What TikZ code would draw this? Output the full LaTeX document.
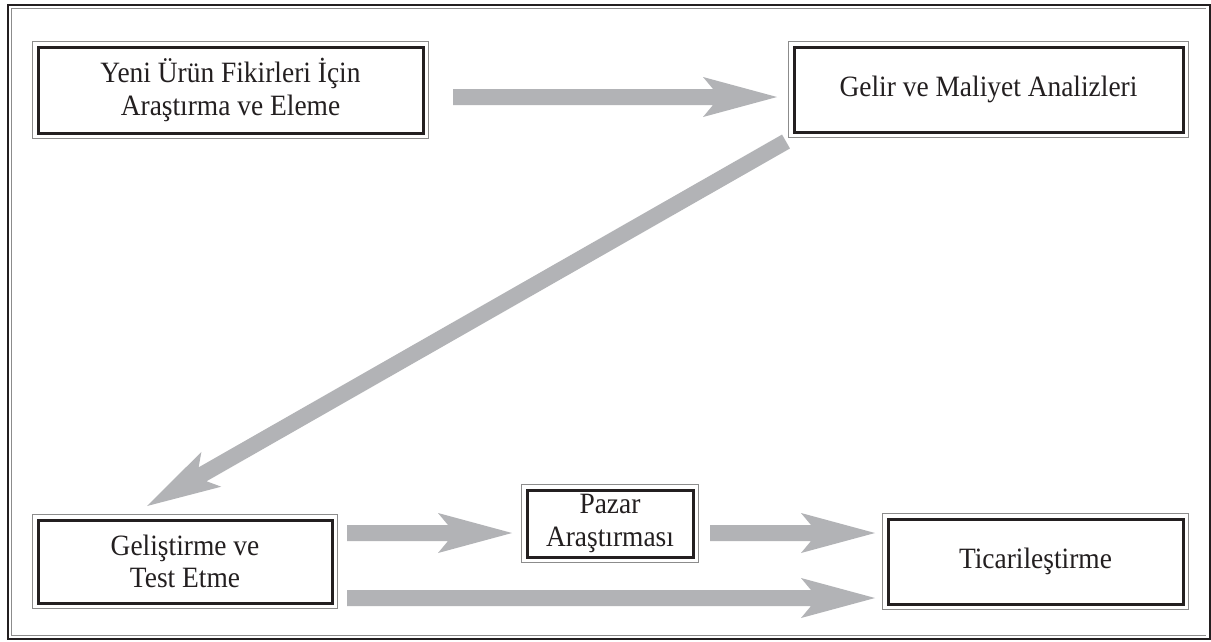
\documentclass[tikz,border=0pt]{standalone}
\usepackage{fontspec}
\setmainfont{Liberation Serif}[FakeStretch=0.93]
\usetikzlibrary{calc}
\definecolor{arrowfill}{RGB}{178,179,182}
\definecolor{framedark}{RGB}{35,31,32}
\definecolor{txt}{RGB}{35,31,32}
\tikzset{
  stagebox/.style={draw=framedark, line width=3pt, fill=white, inner sep=0pt,
    align=center, text=txt, font=\fontsize{29.5}{32.5}\selectfont},
  outerline/.style={draw=black!45, line width=0.9pt},
}
\newcommand{\fatarrow}[3]{%
  \coordinate (#3h) at ($(#2)!74pt!(#1)$);
  \coordinate (#3m) at ($(#2)!64pt!(#1)$);
  \fill[arrowfill] ($(#1)!8pt!90:(#2)$) -- ($(#3m)!8pt!90:(#2)$) -- ($(#3h)!20pt!90:(#2)$) -- (#2)
    -- ($(#3h)!20pt!-90:(#2)$) -- ($(#3m)!8pt!-90:(#2)$) -- ($(#1)!8pt!-90:(#2)$) -- cycle;
}
\begin{document}
\begin{tikzpicture}[x=1pt,y=-1pt]
\useasboundingbox (0,0) rectangle (1211,641);
\fill[white] (0,0) rectangle (1211,641);
% frame
\draw[framedark, line width=2pt] (7.7,4.8) rectangle (1209.5,639.2);
\draw[outerline] (1206,8.8) -- (11.5,8.8) -- (11.5,635.8) -- (1206,635.8);
% nodes
\node[stagebox, minimum width=385pt, minimum height=86pt] (n1) at (230.5,90) {Yeni Ürün Fikirleri İçin\\Araştırma ve Eleme};
\node[stagebox, minimum width=389pt, minimum height=85pt] (n2) at (988.5,89.5) {Gelir ve Maliyet Analizleri};
\node[stagebox, minimum width=294pt, minimum height=83pt] (n3) at (185,561.5) {Geliştirme ve\\Test Etme};
\node[stagebox, minimum width=166pt, minimum height=67pt] (n4) at (610,523.5) {Pazar\\Araştırması};
\node[stagebox, minimum width=295pt, minimum height=85pt] (n5) at (1035.5,561.5) {Ticarileştirme};
\foreach \n in {n1,n2,n3,n4,n5}
  \draw[outerline] ([shift={(-3.6pt,-3.6pt)}]\n.south west) rectangle ([shift={(3.6pt,3.6pt)}]\n.north east);
% arrow end points
\coordinate (a1s) at (453,97);   \coordinate (a1e) at (777,97);
\coordinate (a2s) at (786,141.5); \coordinate (a2e) at (147,506);
\coordinate (a3s) at (347,533);  \coordinate (a3e) at (512,533);
\coordinate (a4s) at (710,533);  \coordinate (a4e) at (875,533);
\coordinate (a5s) at (347,598);  \coordinate (a5e) at (875,598);
\fatarrow{a1s}{a1e}{p1}
\fatarrow{a2s}{a2e}{p2}
\fatarrow{a3s}{a3e}{p3}
\fatarrow{a4s}{a4e}{p4}
\fatarrow{a5s}{a5e}{p5}
\end{tikzpicture}
\end{document}
